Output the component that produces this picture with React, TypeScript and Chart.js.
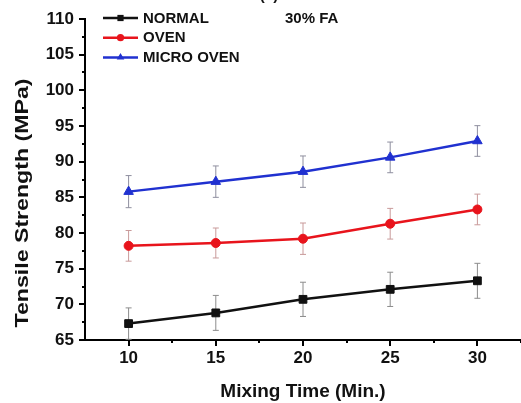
import React, { useEffect, useRef } from "react";
import { Chart, registerables } from "chart.js";

Chart.register(...registerables);

const mixingTimes = [10, 15, 20, 25, 30];
const normalValues = [67.3, 68.8, 70.7, 72.1, 73.3];
const normalErrors = [2.2, 2.45, 2.4, 2.4, 2.45];
const ovenValues = [78.2, 78.6, 79.2, 81.3, 83.3];
const ovenErrors = [2.15, 2.1, 2.2, 2.15, 2.15];
const microValues = [85.8, 87.2, 88.6, 90.6, 92.9];
const microErrors = [2.25, 2.2, 2.2, 2.15, 2.15];

const seriesNames = ["NORMAL", "OVEN", "MICRO OVEN"];
const xTicks = [10, 15, 20, 25, 30];
const xMinorTicks = [12.5, 17.5, 22.5, 27.5, 32.5];
const yTicks = [65, 70, 75, 80, 85, 90, 95, 100, 105, 110];
const yMinorTicks = [67.5, 72.5, 77.5, 82.5, 87.5, 92.5, 97.5, 102.5, 107.5];
const annotationText = "30% FA";
const panelText = "(a)";
const xTitle = "Mixing Time (Min.)";
const yTitle = "Tensile Strength (MPa)";

const FONT = "Arial, 'Liberation Sans', Helvetica, sans-serif";
const COLORS = ["#111111", "#e8141c", "#2031d0"];
const POINT_STYLES = ["rect", "circle", "triangle"];
const POINT_RADII = [5.5, 4.5, 5.5];

function drawMarker(ctx: CanvasRenderingContext2D, style: string, x: number, y: number, r: number, color: string) {
  ctx.save();
  ctx.fillStyle = color;
  ctx.beginPath();
  if (style === "rect") {
    const s = r * Math.SQRT1_2;
    ctx.rect(x - s, y - s, 2 * s, 2 * s);
  } else if (style === "circle") {
    ctx.arc(x, y, r, 0, Math.PI * 2);
  } else {
    ctx.moveTo(x, y - r);
    ctx.lineTo(x + r * 0.866, y + r * 0.5);
    ctx.lineTo(x - r * 0.866, y + r * 0.5);
    ctx.closePath();
  }
  ctx.fill();
  ctx.restore();
}

const extrasPlugin = {
  id: "extras",
  beforeDatasetsDraw(chart: any) {
    const ctx = chart.ctx as CanvasRenderingContext2D;
    const xs = chart.scales.x;
    const ys = chart.scales.y;
    ctx.save();
    ctx.lineWidth = 1;
    chart.data.datasets.forEach((ds: any) => {
      ctx.strokeStyle = ds.errorColor;
      ds.data.forEach((pt: any, i: number) => {
        const e = ds.errors[i];
        const px = xs.getPixelForValue(pt.x);
        const top = ys.getPixelForValue(pt.y + e);
        const bot = ys.getPixelForValue(pt.y - e);
        ctx.beginPath();
        ctx.moveTo(px, top);
        ctx.lineTo(px, bot);
        ctx.moveTo(px - 3, top);
        ctx.lineTo(px + 3, top);
        ctx.moveTo(px - 3, bot);
        ctx.lineTo(px + 3, bot);
        ctx.stroke();
      });
    });
    ctx.restore();
  },
  afterDraw(chart: any) {
    const ctx = chart.ctx as CanvasRenderingContext2D;
    const xs = chart.scales.x;
    const ys = chart.scales.y;
    const area = chart.chartArea;
    ctx.save();
    // minor ticks
    ctx.strokeStyle = "#000";
    ctx.lineWidth = 2;
    yMinorTicks.forEach((v) => {
      const py = Math.round(ys.getPixelForValue(v));
      ctx.beginPath();
      ctx.moveTo(area.left - 3, py);
      ctx.lineTo(area.left, py);
      ctx.stroke();
    });
    xMinorTicks.forEach((v) => {
      const px = Math.round(xs.getPixelForValue(v));
      ctx.beginPath();
      ctx.moveTo(px, area.bottom);
      ctx.lineTo(px, area.bottom + 3);
      ctx.stroke();
    });
    // legend
    ctx.font = `bold 15px ${FONT}`;
    ctx.textBaseline = "middle";
    ctx.textAlign = "left";
    chart.data.datasets.forEach((ds: any, i: number) => {
      const y = 18 + i * 19.7;
      ctx.strokeStyle = ds.borderColor;
      ctx.lineWidth = 2.5;
      ctx.beginPath();
      ctx.moveTo(103, y);
      ctx.lineTo(138, y);
      ctx.stroke();
      drawMarker(ctx, ds.pointStyle, 120.5, y, ds.pointRadius * 0.8, ds.borderColor);
      ctx.fillStyle = "#111";
      ctx.fillText(ds.label, 143, y + 0.5);
    });
    // annotation
    ctx.font = `bold 15px ${FONT}`;
    ctx.fillStyle = "#111";
    ctx.fillText(annotationText, 285, 18.5);
    ctx.textAlign = "center";
    ctx.fillText(panelText, 269, -4);
    // y title
    ctx.save();
    ctx.translate(23, 203);
    ctx.rotate(-Math.PI / 2);
    ctx.font = `bold 19px ${FONT}`;
    const w = ctx.measureText(yTitle).width;
    ctx.scale(249 / w, 1);
    ctx.textAlign = "center";
    ctx.textBaseline = "middle";
    ctx.fillStyle = "#111";
    ctx.fillText(yTitle, 0, 0);
    ctx.restore();
    ctx.restore();
  },
};

export default function App() {
  const canvasRef = useRef<HTMLCanvasElement | null>(null);

  useEffect(() => {
    if (!canvasRef.current) return;
    const allValues = [normalValues, ovenValues, microValues];
    const allErrors = [normalErrors, ovenErrors, microErrors];
    const errorColors = ["#8c8c8c", "#c99a9a", "#8f8f9f"];
    const chart = new Chart(canvasRef.current, {
      type: "line",
      data: {
        datasets: allValues.map((vals, i) => ({
          label: seriesNames[i],
          data: mixingTimes.map((t, j) => ({ x: t, y: vals[j] })),
          borderColor: COLORS[i],
          backgroundColor: COLORS[i],
          borderWidth: 2.5,
          pointStyle: POINT_STYLES[i],
          pointRadius: POINT_RADII[i],
          pointBorderWidth: 1,
          pointBackgroundColor: COLORS[i],
          pointBorderColor: COLORS[i],
          tension: 0,
          errors: allErrors[i],
          errorColor: errorColors[i],
        })) as any,
      },
      options: {
        animation: false,
        responsive: true,
        maintainAspectRatio: false,
        layout: { autoPadding: false, padding: { top: 19, right: 0, left: 0, bottom: 0 } },
        plugins: {
          legend: { display: false },
          tooltip: { enabled: false },
        },
        scales: {
          x: {
            type: "linear",
            min: 7.5,
            max: 32.5,
            afterBuildTicks: (scale: any) => {
              scale.ticks = xTicks.map((v) => ({ value: v }));
            },
            afterFit: (scale: any) => {
              scale.height = 63;
              scale.paddingLeft = 0;
              scale.paddingRight = 0;
            },
            grid: {
              drawOnChartArea: false,
              drawTicks: true,
              tickLength: 6,
              color: "#000",
              lineWidth: 2,
            },
            border: { display: true, color: "#000", width: 2 },
            ticks: {
              color: "#111",
              padding: 2,
              font: { family: FONT, size: 17, weight: "bold" },
              maxRotation: 0,
            },
            title: {
              display: true,
              text: xTitle,
              color: "#111",
              font: { family: FONT, size: 19, weight: "bold" },
              padding: { top: 0, bottom: 0 },
            },
          },
          y: {
            type: "linear",
            min: 65,
            max: 110,
            afterBuildTicks: (scale: any) => {
              scale.ticks = yTicks.map((v) => ({ value: v }));
            },
            afterFit: (scale: any) => {
              scale.width = 85;
            },
            grid: {
              drawOnChartArea: false,
              drawTicks: true,
              tickLength: 6,
              color: "#000",
              lineWidth: 2,
            },
            border: { display: true, color: "#000", width: 2 },
            ticks: {
              color: "#111",
              padding: 5,
              font: { family: FONT, size: 17, weight: "bold" },
            },
          },
        },
      } as any,
      plugins: [extrasPlugin],
    });
    return () => chart.destroy();
  }, []);

  return (
    <div style={{ position: "fixed", left: 0, top: 0, width: 521, height: 403, background: "#fff" }}>
      <canvas ref={canvasRef} />
    </div>
  );
}
